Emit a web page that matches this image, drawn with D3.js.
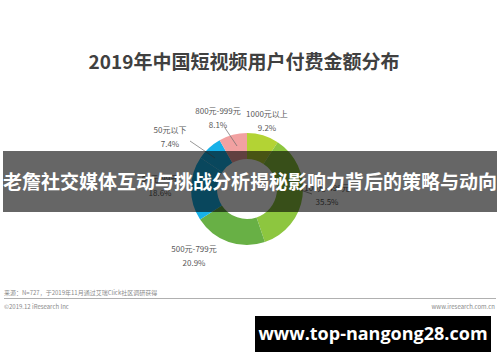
<!DOCTYPE html>
<html>
<head>
<meta charset="utf-8">
<script src="https://cdn.jsdelivr.net/npm/d3@7"></script>
<style>
  html, body { margin: 0; padding: 0; background: #fff; }
  svg { display: block; font-family: "Noto Sans CJK SC", "Noto Sans", sans-serif; }
</style>
</head>
<body>
<svg id="chart" width="500" height="362"></svg>
<script>
// Slices, clockwise from 12 o'clock
const categories = ["1000元以上", "100元-499元", "500元-799元", "50元-99元", "50元以下", "800元-999元"];
const shares = [9.2, 35.5, 20.9, 18.6, 7.4, 8.1];
const sliceColors = ["#b3d334", "#8dc63f", "#68b045", "#17b1e8", "#17b1e8", "#f2a1a1"];

const TITLE = "2019年中国短视频用户付费金额分布";
const BANNER = "老詹社交媒体互动与挑战分析揭秘影响力背后的策略与动向";
const SOURCE = "来源：N=727，于2019年11月通过艾瑞Click社区调研获得";

const svg = d3.select("#chart");
const cx = 247, cy = 189, rOuter = 56, rInner = 30;

svg.append("text")
  .attr("x", 244).attr("y", 69)
  .attr("text-anchor", "middle")
  .attr("font-size", 19).attr("font-weight", 700)
  .attr("fill", "#404040")
  .text(TITLE);

const pie = d3.pie().sort(null).value((d) => d)(shares);
const arc = d3.arc().innerRadius(rInner).outerRadius(rOuter);

const g = svg.append("g").attr("transform", `translate(${cx},${cy})`);
g.selectAll("path")
  .data(pie)
  .join("path")
  .attr("d", arc)
  .attr("fill", (d, i) => sliceColors[i]);

// label positions (name line / value line) placed by hand around the ring
const labelPos = [
  { x: 267, y: 117, line: null },
  { x: 327, y: 191, line: [[312, 194], [295, 188]] },
  { x: 194, y: 252, line: null },
  { x: 160, y: 182, line: null },
  { x: 170, y: 133, line: [[190, 141], [215, 158]] },
  { x: 218, y: 114, line: [[225, 128], [237, 146]] }
];

const lab = svg.append("g").attr("font-size", 8).attr("fill", "#595959").attr("text-anchor", "middle");
categories.forEach((c, i) => {
  const p = labelPos[i];
  lab.append("text").attr("x", p.x).attr("y", p.y).text(c);
  lab.append("text").attr("x", p.x).attr("y", p.y + 14).text(d3.format(".1f")(shares[i]) + "%");
  if (p.line) {
    svg.append("line")
      .attr("x1", p.line[0][0]).attr("y1", p.line[0][1])
      .attr("x2", p.line[1][0]).attr("y2", p.line[1][1])
      .attr("stroke", "#6b6b6b").attr("stroke-width", 0.7);
  }
});

// overlay banner
svg.append("rect")
  .attr("x", 3).attr("y", 151).attr("width", 494).attr("height", 61)
  .attr("fill", "#000").attr("fill-opacity", 0.6);
svg.append("text")
  .attr("x", 250).attr("y", 189)
  .attr("text-anchor", "middle")
  .attr("font-size", 19).attr("font-weight", 700)
  .attr("fill", "#fff")
  .text(BANNER);

// footer
svg.append("text")
  .attr("x", 4).attr("y", 295)
  .attr("font-size", 6).attr("fill", "#8a8a8a")
  .text(SOURCE);
svg.append("line")
  .attr("x1", 4).attr("x2", 496).attr("y1", 298.5).attr("y2", 298.5)
  .attr("stroke", "#b0b0b0").attr("stroke-width", 1);
svg.append("text")
  .attr("x", 4).attr("y", 309)
  .attr("font-size", 6).attr("fill", "#8a8a8a")
  .text("©2019.12 iResearch Inc");
svg.append("text")
  .attr("x", 495).attr("y", 309)
  .attr("text-anchor", "end")
  .attr("font-size", 6).attr("fill", "#8a8a8a")
  .text("www.iresearch.com.cn");

// watermark box
svg.append("rect")
  .attr("x", 255).attr("y", 316).attr("width", 236).attr("height", 36)
  .attr("fill", "#000");
svg.append("text")
  .attr("x", 373).attr("y", 340)
  .attr("text-anchor", "middle")
  .attr("font-family", "\"Open Sans\", sans-serif")
  .attr("font-size", 18).attr("font-weight", 700)
  .attr("fill", "#fff")
  .text("www.top-nangong28.com");
</script>
</body>
</html>
